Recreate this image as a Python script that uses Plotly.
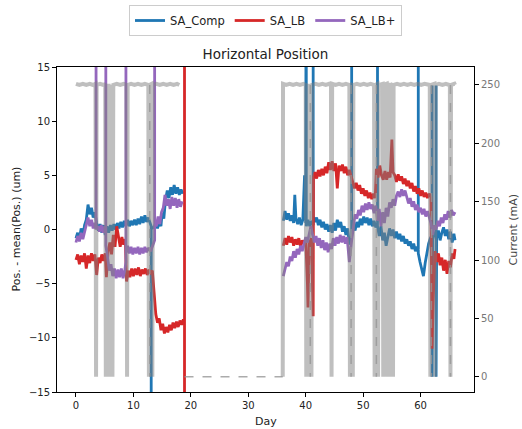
import plotly.graph_objects as go

# ---------------- data (day, value) ----------------
SA_COMP = [
    (0.0,-0.8),(0.3,-0.3),(0.6,-0.9),(0.9,0.1),(1.2,-0.6),(1.5,0.4),(1.8,0.9),(2.1,2.3),(2.4,1.4),(2.7,2.0),(3.0,1.1),(3.3,1.6),
    (3.6,0.6),(3.9,-0.1),(4.2,0.5),(4.5,-0.3),(4.8,0.4),(5.1,-0.5),(5.4,0.3),(5.7,-0.3),(6.0,0.4),(6.3,-0.1),(6.6,0.5),
    (6.9,0.0),(7.2,0.6),(7.5,0.1),(7.8,0.7),(8.1,0.2),(8.4,0.8),(8.7,0.3),(9.0,0.9),(9.3,0.3),(9.6,0.8),(9.9,0.4),
    (10.2,0.9),(10.5,0.4),(10.8,1.0),(11.1,0.5),(11.4,1.2),(11.7,0.6),(12.0,1.3),(12.3,0.7),(12.6,1.1),(12.9,0.5),
    (13.1,0.3),(13.1,-40),(13.1,0.1),(13.6,0.2),(13.9,0.6),(14.2,0.1),(14.5,0.8),(14.8,0.3),(15.0,1.5),(15.3,1.0),(15.6,2.8),
    (15.9,3.6),(16.2,2.9),(16.5,3.9),(16.8,3.2),(17.1,4.1),(17.4,3.3),(17.7,3.9),(18.0,3.2),(18.3,3.7),(18.6,3.3),
    (None,None),
    (36.1,0.8),(36.4,1.7),(36.7,0.9),(37.0,1.5),(37.3,0.8),(37.6,1.3),(37.9,0.6),(38.1,3.2),(38.3,1.0),(38.6,0.5),
    (38.9,1.1),(39.2,0.4),(39.5,0.9),(39.8,5.0),(40.0,0.6),(40.1,40),(40.1,0.3),(40.4,0.9),(40.7,0.3),(41.0,0.8),
    (41.3,0.4),(41.3,40),(41.3,1.2),(41.6,0.7),(41.9,1.1),(42.2,0.4),(42.5,0.9),(42.8,0.2),(43.1,0.7),(43.4,0.0),
    (43.7,0.5),(44.0,-0.2),(44.3,0.4),(44.6,-0.3),(44.9,0.6),(45.2,-0.1),(45.5,0.9),(45.8,0.2),(46.1,0.7),(46.4,-0.2),
    (46.7,0.3),(47.0,-0.5),(47.3,0.1),(47.6,-1.4),(48.0,-0.6),(48.0,40),(48.0,-0.3),(48.3,0.4),(48.6,-0.1),(48.9,0.7),
    (49.2,0.2),(49.5,1.0),(49.8,0.4),(50.1,1.2),(50.4,0.6),(50.7,1.1),(51.0,0.4),(51.3,1.0),(51.6,0.3),(51.9,0.8),
    (52.2,0.2),(52.5,0.5),(52.5,40),(52.5,0.3),(52.8,-0.6),(53.1,0.3),(53.4,-1.0),(53.7,-0.3),(54.0,-1.5),(54.3,-0.6),
    (54.6,0.1),(54.9,-0.6),(55.2,0.0),(55.5,-0.8),(55.8,-0.2),(56.1,-0.9),(56.4,-0.4),(56.7,-1.1),(57.0,-0.6),
    (57.3,-1.3),(57.6,-0.9),(57.9,-1.5),(58.2,-1.1),(58.5,-1.8),(58.8,-1.3),(59.1,-2.0),(59.4,-1.6),(59.6,-1.8),
    (59.6,40),(59.6,-2.2),(59.9,-3.0),(60.2,-3.8),(60.5,-4.3),(60.8,-3.1),(61.1,-2.0),(61.4,-1.3),(61.7,-0.8),
    (62.0,-0.5),(62.0,13.3),(62.0,-13.6),(62.1,-0.6),(62.4,-0.2),(62.7,-0.9),(62.7,13.3),(62.7,-13.6),(62.8,-0.8),
    (63.1,-0.1),(63.4,-1.0),(63.7,-0.3),(64.0,0.2),(64.3,-0.6),(64.6,0.0),(64.9,-0.9),(65.2,-0.2),(65.5,-1.2),
    (65.8,-0.4),(66.0,-1.0),
]

SA_LB = [
    (0.0,-2.8),(0.3,-2.3),(0.6,-3.2),(0.9,-2.4),(1.2,-3.0),(1.5,-2.2),(1.8,-3.6),(2.1,-2.4),(2.4,-3.1),(2.7,-2.2),
    (3.0,-2.9),(3.3,-2.3),(3.6,-4.2),(3.9,-2.6),(4.2,-3.1),(4.5,-2.3),(4.8,-2.9),(5.1,-2.2),(5.3,-4.4),(5.6,-2.0),
    (5.9,-1.2),(6.2,-2.3),(6.5,-0.5),(6.8,-1.6),(7.1,0.3),(7.4,-0.9),(7.7,-1.6),(8.0,-0.7),(8.3,-1.4),(8.6,-0.9),
    (8.8,-4.8),(9.1,-3.8),(9.4,-4.4),(9.7,-3.6),(10.0,-4.3),(10.3,-3.6),(10.6,-4.2),(10.9,-3.5),(11.2,-4.3),
    (11.5,-3.7),(11.8,-4.1),(12.1,-3.6),(12.4,-4.2),(12.7,-3.7),(13.0,-4.0),(13.3,-3.8),(13.9,-7.8),(14.2,-8.6),
    (14.5,-8.2),(14.8,-9.3),(15.1,-8.7),(15.4,-9.6),(15.7,-9.0),(16.0,-9.5),(16.3,-8.8),(16.6,-9.3),(16.9,-8.6),
    (17.2,-9.1),(17.5,-8.5),(17.8,-9.0),(18.1,-8.4),(18.4,-8.8),(18.7,-8.3),(18.9,-8.6),(18.9,40),(18.9,-40),
    (None,None),
    (36.1,-1.5),(36.4,-0.8),(36.7,-1.4),(37.0,-0.6),(37.3,-1.2),(37.6,-0.7),(37.9,-1.5),(38.2,-0.9),(38.5,-1.4),
    (38.8,-0.8),(39.1,-1.6),(39.4,-1.0),(39.7,-1.3),(40.0,-0.9),(40.3,-5.0),(40.4,-7.2),(40.6,-1.3),(41.0,-0.8),
    (41.3,-8.0),(41.35,4.8),(41.6,5.3),(41.9,4.7),(42.2,5.5),(42.5,4.9),(42.8,5.6),(43.1,5.0),(43.4,5.8),(43.7,5.2),
    (44.0,6.2),(44.3,5.5),(44.6,6.3),(44.9,5.4),(45.2,6.1),(45.5,3.8),(45.8,5.9),(46.1,5.4),(46.4,6.0),(46.7,5.2),
    (47.0,5.8),(47.3,5.0),(47.6,5.5),(48.2,4.4),(48.5,3.8),(48.8,4.3),(49.1,3.6),(49.4,4.1),(49.7,3.3),(50.0,3.8),
    (50.3,3.1),(50.6,3.6),(50.9,2.9),(51.2,3.4),(51.5,2.8),(51.8,3.3),(52.1,2.9),(52.3,5.6),(52.6,4.8),(52.9,5.9),
    (53.2,5.0),(53.5,4.6),(53.8,5.4),(54.1,4.6),(54.4,5.3),(54.7,4.8),(55.0,8.3),(55.2,5.3),(55.5,5.0),(55.8,4.4),
    (56.1,5.1),(56.4,4.5),(56.7,4.9),(57.0,4.2),(57.3,4.7),(57.6,4.0),(57.9,4.5),(58.2,3.8),(58.5,4.3),(58.8,3.5),
    (59.1,4.0),(59.4,3.3),(59.7,3.8),(60.0,3.1),(60.3,3.6),(60.6,3.0),(60.9,3.4),(61.2,2.9),(61.5,3.3),(61.8,3.0),
    (62.0,-11.0),(62.2,-6.5),(62.5,-2.0),(62.8,-3.0),(63.1,-2.2),(63.4,-3.3),(63.7,-2.6),(64.0,-3.8),(64.3,-2.8),
    (64.6,-4.1),(64.9,-2.9),(65.2,-3.5),(65.5,-2.2),(65.8,-2.7),(66.0,-1.8),
]

SA_LB_PLUS = [
    (0.0,-1.2),(0.3,-0.6),(0.6,-1.1),(0.9,-0.3),(1.2,-0.9),(1.5,-0.2),(1.8,0.6),(2.1,1.1),(2.4,0.3),(2.7,0.9),
    (3.0,0.1),(3.3,0.6),(3.5,0.0),(3.5,40),(3.5,0.1),(3.8,0.3),(4.1,-0.2),(4.4,0.4),(4.7,-0.3),(5.0,0.3),(5.2,0.0),
    (5.2,40),(5.2,-1.5),(5.5,-2.5),(5.8,-3.8),(6.1,-3.2),(6.4,-4.3),(6.7,-3.6),(7.0,-4.5),(7.3,-3.7),(7.6,-4.4),
    (7.9,-3.6),(8.2,-4.5),(8.5,-3.8),(8.7,-3.0),(8.7,40),(8.7,-2.2),(9.0,-1.5),(9.3,-2.2),(9.6,-1.6),(9.9,-2.3),
    (10.2,-1.7),(10.5,-2.2),(10.8,-1.6),(11.1,-2.3),(11.4,-1.7),(11.7,-2.2),(12.0,-1.6),(12.3,-2.1),(12.6,-1.7),
    (13.0,-2.0),(13.7,-1.0),(13.7,40),(13.7,0.5),(14.0,0.3),(14.3,1.2),(14.6,0.5),(14.9,1.6),(15.2,2.0),(15.5,3.2),
    (15.8,2.2),(16.1,2.8),(16.4,1.9),(16.7,3.0),(17.0,2.2),(17.3,2.9),(17.6,2.0),(17.9,2.8),(18.2,2.1),(18.5,2.6),
    (None,None),
    (36.1,-4.3),(36.4,-3.6),(36.7,-3.0),(37.0,-3.4),(37.3,-2.5),(37.6,-2.9),(37.9,-2.0),(38.2,-2.6),(38.5,-1.8),
    (38.8,-2.3),(39.1,-1.5),(39.4,-2.0),(39.7,-1.3),(40.0,-0.7),(40.3,-1.2),(40.6,-0.4),(40.9,0.3),(41.2,-0.5),
    (41.5,-1.2),(41.8,-0.6),(42.1,-1.5),(42.4,-0.8),(42.7,-1.7),(43.0,-1.0),(43.3,-1.9),(43.6,-1.2),(43.9,-2.1),
    (44.2,-1.3),(44.5,-1.8),(44.8,-0.8),(45.1,-1.5),(45.4,-0.7),(45.7,-1.3),(46.0,-0.5),(46.3,-1.2),(46.6,-0.6),
    (46.9,-1.3),(47.2,-0.7),(47.6,-3.0),(48.0,-1.0),(48.3,0.5),(48.6,1.4),(48.9,1.0),(49.2,1.8),(49.5,1.3),
    (49.8,2.2),(50.1,1.6),(50.4,2.4),(50.7,1.8),(51.0,2.5),(51.3,1.9),(51.6,2.3),(51.9,1.5),(52.2,2.2),(52.5,0.8),
    (52.8,1.9),(53.1,0.3),(53.4,1.6),(53.7,0.6),(54.0,2.0),(54.3,1.2),(54.6,2.5),(54.9,2.0),(55.2,2.8),(55.5,2.2),
    (55.8,3.1),(56.1,3.5),(56.4,3.0),(56.7,3.7),(57.0,3.1),(57.3,3.6),(57.6,2.9),(57.9,2.4),(58.2,2.9),(58.5,2.1),
    (58.8,2.6),(59.1,1.8),(59.4,2.3),(59.7,1.6),(60.0,2.0),(60.3,1.4),(60.6,1.9),(60.9,1.2),(61.2,1.7),(61.5,1.1),
    (61.8,0.6),(62.1,-0.5),(62.4,0.4),(62.7,0.0),(63.0,0.8),(63.3,0.3),(63.6,1.1),(63.9,0.6),(64.2,1.4),(64.5,0.9),
    (64.8,1.7),(65.1,1.1),(65.4,1.8),(65.7,1.3),(66.0,1.6),
]

CURRENT_MA = [
    (0.0,251),(0.6,250),(1.2,251),(1.8,250),(2.4,251),(3.0,250),(3.4,251),(3.5,0),(3.6,250),(4.2,251),(4.8,250),
    (5.1,251),(5.2,0),(5.35,250),(5.55,0),(5.7,251),(5.95,0),(6.1,250),(6.35,0),(6.5,250),
    (7.1,251),(7.7,250),(8.3,251),(8.8,250),(8.9,0),(9.0,250),(9.6,251),(10.2,250),(10.8,251),(11.4,250),(12.0,251),
    (12.6,250),(12.7,0),(12.8,250),(13.2,251),(13.3,0),(13.4,250),(14.0,251),(14.6,250),(15.2,251),(15.8,250),
    (16.4,251),(17.0,250),(17.6,251),(18.0,250),
    (None,None),
    (36.0,0),(36.05,251),(36.6,250),(37.2,251),(37.8,250),(38.4,251),(39.0,250),(39.6,251),(40.0,250),(40.1,0),
    (40.2,250),(40.5,0),(40.6,251),(41.0,0),(41.1,250),(41.7,251),(42.3,250),(42.9,251),(43.5,250),(44.1,251),
    (44.4,250),(44.5,0),(44.6,251),(45.2,250),(45.8,251),(46.4,250),(47.0,251),(47.6,250),(47.7,0),(47.8,250),
    (48.1,251),(48.2,0),(48.3,250),(48.9,251),(49.5,250),(50.1,251),(50.7,250),(51.3,251),(51.9,250),(52.0,0),
    (52.1,250),(52.5,251),(52.6,0),(52.7,250),(53.4,251),(53.5,0),(53.6,250),(54.1,251),(54.2,0),(54.3,250),
    (54.6,251),(54.7,0),(54.8,250),(55.1,251),(55.2,0),(55.3,250),(55.9,251),(56.5,250),(57.1,251),(57.7,250),
    (58.3,251),(58.9,250),(59.5,251),(60.1,250),(60.7,251),(61.3,250),(61.6,250),(61.7,0),(61.8,250),(62.4,251),
    (62.5,0),(62.6,250),(63.2,251),(63.8,250),(64.4,251),(65.0,250),(65.1,251),(65.2,0),(65.3,250),(65.9,251),(66.0,250),
]

CURRENT_DASHED = [
    (12.85,250),(12.85,0),(None,None),
    (18.9,0),(36.0,0),(None,None),
    (40.8,250),(40.8,0),(None,None),
    (47.9,250),(47.9,0),(None,None),
    (52.3,250),(52.3,0),(None,None),
    (61.9,250),(61.9,0),(None,None),
    (65.2,250),(65.2,0),
]

X_TICKS = [0, 10, 20, 30, 40, 50, 60]
Y_TICKS = [-15, -10, -5, 0, 5, 10, 15]
Y2_TICKS = [0, 50, 100, 150, 200, 250]


def unzip(pairs):
    xs = [p[0] for p in pairs]
    ys = [p[1] for p in pairs]
    return xs, ys


FONT = "DejaVu Sans"
fig = go.Figure()

for name, pairs, color in [("SA_Comp", SA_COMP, "#1f77b4"),
                           ("SA_LB", SA_LB, "#d62728"),
                           ("SA_LB+", SA_LB_PLUS, "#9467bd")]:
    xs, ys = unzip(pairs)
    fig.add_trace(go.Scatter(x=xs, y=ys, mode="lines", name=name,
                             line=dict(color=color, width=2.8),
                             yaxis="y", connectgaps=False))

xs, ys = unzip(CURRENT_MA)
fig.add_trace(go.Scatter(x=xs, y=ys, mode="lines", showlegend=False,
                         line=dict(color="rgba(128,128,128,0.5)", width=4),
                         yaxis="y2", connectgaps=False))
xs, ys = unzip(CURRENT_DASHED)
fig.add_trace(go.Scatter(x=xs, y=ys, mode="lines", showlegend=False,
                         line=dict(color="rgba(150,150,150,0.8)", width=1.5, dash="dash"),
                         yaxis="y2", connectgaps=False))

axis_common = dict(showgrid=False, zeroline=False, showline=True, linecolor="black",
                   linewidth=1, ticks="outside", ticklen=4, tickwidth=1, tickcolor="black",
                   tickfont=dict(family=FONT, size=10, color="#222"))

fig.update_layout(
    width=522, height=429,
    margin=dict(l=57, r=48, t=67, b=37, autoexpand=False),
    paper_bgcolor="white", plot_bgcolor="white",
    font=dict(family=FONT, size=10, color="#222"),
    title=dict(text="Horizontal Position", x=0.5, xref="paper", xanchor="center",
               y=1 - 54 / 429, yref="container", yanchor="middle",
               font=dict(family=FONT, size=13.5, color="#222")),
    xaxis=dict(range=[-3.3, 69.3], tickvals=X_TICKS, mirror=True, **axis_common),
    yaxis=dict(range=[-15, 15], tickvals=Y_TICKS, mirror=True, **axis_common),
    yaxis2=dict(range=[-13.1, 265.4], tickvals=Y2_TICKS, overlaying="y", side="right",
                showgrid=False, zeroline=False, showline=True, linecolor="black", linewidth=1,
                ticks="outside", ticklen=4, tickwidth=1, tickcolor="black",
                tickfont=dict(family=FONT, size=10, color="#777")),
    legend=dict(orientation="h", x=0.5, xanchor="center", y=(392 - 5) / 325, yanchor="top",
                xref="paper", yref="paper",
                bordercolor="#cccccc", borderwidth=1, bgcolor="white",
                font=dict(family=FONT, size=11.5, color="#222")),
    showlegend=True,
    annotations=[
        dict(text="Pos. - mean(Pos.) (um)", textangle=-90, xref="paper", yref="paper",
             x=(16 - 57) / 417, y=0.5, xanchor="center", yanchor="middle", showarrow=False,
             font=dict(family=FONT, size=11, color="#222")),
        dict(text="Current (mA)", textangle=-90, xref="paper", yref="paper",
             x=(513 - 57) / 417, y=0.5, xanchor="center", yanchor="middle", showarrow=False,
             font=dict(family=FONT, size=11, color="#444")),
        dict(text="Day", xref="paper", yref="paper", x=0.5, y=(392 - 421) / 325,
             xanchor="center", yanchor="middle", showarrow=False,
             font=dict(family=FONT, size=11, color="#222")),
    ],
)

fig.write_html("out.html")
